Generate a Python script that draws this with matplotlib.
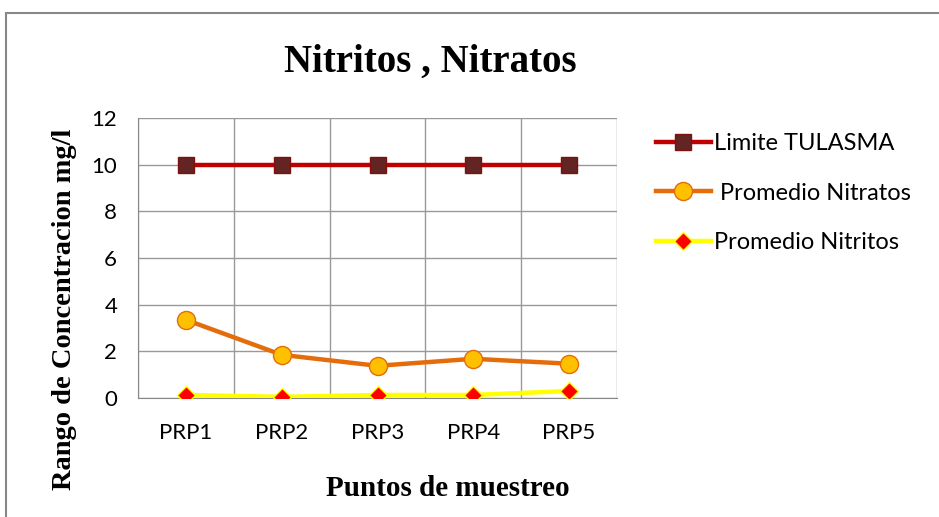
import matplotlib.pyplot as plt
import numpy as np
from matplotlib.patches import Rectangle

# Data
puntos = ['PRP1', 'PRP2', 'PRP3', 'PRP4', 'PRP5']
limite = [10, 10, 10, 10, 10]
nitratos = [3.35, 1.85, 1.38, 1.68, 1.47]
nitritos = [0.13, 0.05, 0.13, 0.13, 0.3]

W, H = 939, 517
fig = plt.figure(figsize=(W / 100, H / 100), dpi=100)

# outer chart border
fig.patches.append(Rectangle((6 / W, -0.1), 1.1, 1 - 13 / H + 0.1, transform=fig.transFigure,
                             fill=False, edgecolor='#888888', linewidth=1.5))

ax = fig.add_axes([138 / W, 1 - 398 / H, (617 - 138) / W, (398 - 118) / H])
x = np.arange(len(puntos))

ax.plot(x, limite, color='#c00000', linewidth=3.2, marker='s', markersize=12,
        markerfacecolor='#632523', markeredgecolor='#7f1010', label='Limite TULASMA', zorder=3)
ax.plot(x, nitratos, color='#e46c0a', linewidth=3.2, marker='o', markersize=13,
        markerfacecolor='#ffc000', markeredgecolor='#e46c0a', label=' Promedio Nitratos', zorder=3)
ax.plot(x, nitritos, color='#ffff00', linewidth=3.2, marker='D', markersize=9,
        markerfacecolor='#ff0000', markeredgecolor='#ffff00', label='Promedio Nitritos', zorder=3)

ax.set_xlim(-0.5, 4.5)
ax.set_ylim(0, 12)
ax.set_yticks(range(0, 13, 2))
ax.set_xticks(x)
ax.set_xticklabels(puntos)
ax.set_xticks(np.arange(-0.5, 5, 1), minor=True)
ax.grid(True, which='minor', axis='x', color='#999999', linewidth=1)
ax.grid(True, which='major', axis='y', color='#999999', linewidth=1)
ax.tick_params(which='both', length=0, labelsize=16)
ax.tick_params(axis='y', pad=15)
ax.tick_params(axis='x', pad=18)
for lab in ax.get_xticklabels() + ax.get_yticklabels():
    lab.set_fontfamily('Lato')
for s in ['top', 'right']:
    ax.spines[s].set_visible(False)
for s in ['left', 'bottom']:
    ax.spines[s].set_color('#888888')

fig.text(65 / W, 1 - 309 / H, 'Rango de Concentracion mg/l', fontsize=20.5, fontweight='bold',
         fontfamily='Liberation Serif', rotation=90, ha='center', va='center')
fig.text(448 / W, 1 - 488 / H, 'Puntos de muestreo', fontsize=21, fontweight='bold',
         fontfamily='Liberation Serif', ha='center', va='center')
fig.text(430 / W, 1 - 62 / H, 'Nitritos , Nitratos', fontsize=28, fontweight='bold',
         fontfamily='Liberation Serif', ha='center', va='center')

ax.legend(loc='upper left', bbox_to_anchor=(635 / W, 1 - 112 / H), bbox_transform=fig.transFigure,
          frameon=False, prop={'family': 'Lato', 'size': 17}, handlelength=2.3,
          handletextpad=0.15, labelspacing=1.2)

fig.savefig('out.png', dpi=100)
